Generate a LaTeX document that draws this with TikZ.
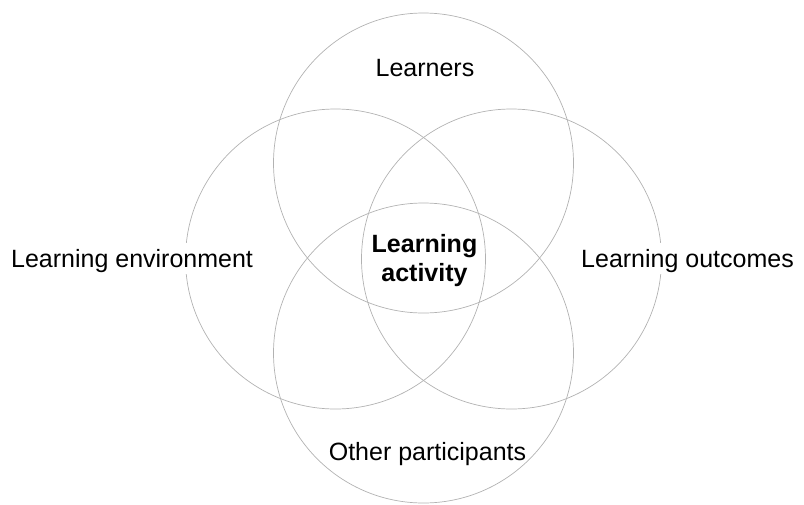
\documentclass[tikz,border=0pt]{standalone}
\usepackage{fontspec}
\setmainfont{Liberation Sans}
\begin{document}
\begin{tikzpicture}[x=1pt,y=-1pt,
  ring/.style={circle, draw=black!30, line width=0.7pt, minimum size=300pt, inner sep=0pt, outer sep=0pt},
  lbl/.style={inner sep=0pt, font=\fontsize{25}{29}\selectfont, text=black},
  sidelbl/.style={lbl, fill=white, text height=24pt, text depth=7pt, inner xsep=1pt},
  midlbl/.style={lbl, align=center, font=\fontsize{25}{29}\selectfont\bfseries}]
\useasboundingbox (0,0) rectangle (804,504);
\node[ring] (top) at (423.5,163) {};
\node[ring] (left) at (335.5,259) {};
\node[ring] (right) at (511.5,259) {};
\node[ring] (bottom) at (423.5,353) {};
\node[lbl, anchor=base] (learners) at (425,76) {Learners};
\node[sidelbl, anchor=base west] (env) at (10,267) {Learning environment};
\node[sidelbl, anchor=base west] (out) at (580,267) {Learning outcomes};
\node[lbl, anchor=base] (other) at (427.5,460) {Other participants};
\node[midlbl, anchor=center] (act) at (424.5,261) {Learning\\activity};
\end{tikzpicture}
\end{document}
